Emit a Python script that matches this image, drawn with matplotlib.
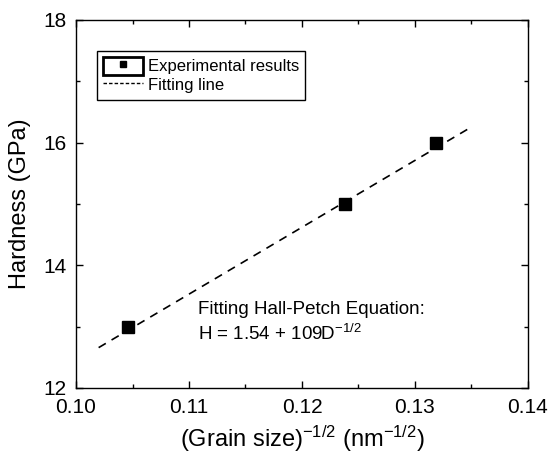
import matplotlib
matplotlib.use("Agg")
import matplotlib.pyplot as plt
from matplotlib.patches import Rectangle
from matplotlib.lines import Line2D
from matplotlib.legend_handler import HandlerTuple
from matplotlib.ticker import MultipleLocator

plt.rcParams['font.family'] = ['Liberation Sans', 'DejaVu Sans']
plt.rcParams['mathtext.fontset'] = 'custom'
plt.rcParams['mathtext.rm'] = 'Liberation Sans'
plt.rcParams['mathtext.it'] = 'Liberation Sans'

# measured grain size^-1/2 and hardness
inv_sqrt_d = [0.1046, 0.1238, 0.1319]
hardness = [13.0, 15.0, 16.0]

# Hall-Petch fit H = H0 + k * D^-1/2
h0 = 1.54
k = 109.0
fit_x = [0.102, 0.1347]
fit_y = [h0 + k * x for x in fit_x]

fig = plt.figure(figsize=(5.51, 4.54), dpi=100)
ax = fig.add_axes([0.138, 0.1454, 0.82, 0.8106])

ax.plot(fit_x, fit_y, color='black', lw=1.2, linestyle=(0, (5, 4)))
ax.plot(inv_sqrt_d, hardness, linestyle='none', marker='s', ms=9, color='black')

ax.set_xlim(0.10, 0.14)
ax.set_ylim(12, 18)
ax.xaxis.set_major_locator(MultipleLocator(0.01))
ax.xaxis.set_minor_locator(MultipleLocator(0.005))
ax.yaxis.set_major_locator(MultipleLocator(2))
ax.yaxis.set_minor_locator(MultipleLocator(1))
ax.xaxis.set_major_formatter(plt.FormatStrFormatter('%.2f'))
ax.tick_params(which='both', direction='in', top=True, right=True, width=1.0,
               labelsize=15, pad=7)
ax.tick_params(which='major', length=5)
ax.tick_params(which='minor', length=3)
for s in ax.spines.values():
    s.set_linewidth(1.0)

ax.set_xlabel(r'(Grain size)$^{\mathregular{-1/2}}$ (nm$^{\mathregular{-1/2}}$)',
              fontsize=17, labelpad=5)
ax.set_ylabel('Hardness (GPa)', fontsize=17, labelpad=9)

ax.text(0.1108, 13.42, 'Fitting Hall-Petch Equation:\nH = 1.54 + 109D$^{\\mathregular{-1/2}}$',
        fontsize=13.5, va='top', ha='left', linespacing=1.4)

# legend: boxed square marker and dashed line
box = Rectangle((0, 0), 1, 1, facecolor='white', edgecolor='black', lw=2)
sq = Line2D([], [], linestyle='none', marker='s', ms=5, color='black')
dash = Line2D([], [], color='black', lw=1.0, linestyle=(0, (2.5, 1.5)))
leg = ax.legend([(box, sq), dash], ['Experimental results', 'Fitting line'],
                handler_map={tuple: HandlerTuple(ndivide=1, pad=0)},
                loc='upper left', bbox_to_anchor=(0.046, 0.916), borderaxespad=0,
                fontsize=12, frameon=True, fancybox=False, framealpha=1,
                edgecolor='black', handlelength=2.4, handleheight=1.3,
                handletextpad=0.3, borderpad=0.35, labelspacing=0.05)
leg.get_frame().set_linewidth(1.0)

fig.savefig('out.png', dpi=100)
